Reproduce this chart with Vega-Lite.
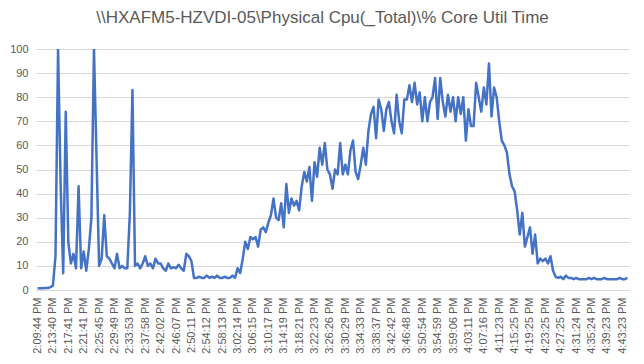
{
  "$schema": "https://vega.github.io/schema/vega-lite/v6.json",
  "autosize": "none",
  "width": 593,
  "height": 241,
  "padding": {"left": 36, "top": 49, "right": 15, "bottom": 74},
  "background": "white",
  "config": {
    "font": "Liberation Sans",
    "view": {"stroke": null}
  },
  "title": {
    "text": "\\\\HXAFM5-HZVDI-05\\Physical Cpu(_Total)\\% Core Util Time",
    "fontSize": 17,
    "fontWeight": "normal",
    "color": "#595959",
    "anchor": "middle",
    "frame": "group",
    "dx": -10,
    "offset": 16
  },
  "data": {"values": [
{"time":"2:09:44 PM","cpu":0.7},{"time":"2:10:24 PM","cpu":0.7},{"time":"2:11:04 PM","cpu":0.7},{"time":"2:11:44 PM","cpu":0.8},{"time":"2:12:24 PM","cpu":0.8},{"time":"2:13:04 PM","cpu":1.2},
{"time":"2:13:40 PM","cpu":1.8},{"time":"2:14:20 PM","cpu":14},{"time":"2:15:00 PM","cpu":100},{"time":"2:15:40 PM","cpu":44},{"time":"2:16:20 PM","cpu":7},{"time":"2:17:00 PM","cpu":74},
{"time":"2:17:41 PM","cpu":20},{"time":"2:18:21 PM","cpu":11},{"time":"2:19:01 PM","cpu":15},{"time":"2:19:41 PM","cpu":9},{"time":"2:20:21 PM","cpu":43},{"time":"2:21:01 PM","cpu":9},
{"time":"2:21:41 PM","cpu":16},{"time":"2:22:21 PM","cpu":8},{"time":"2:23:01 PM","cpu":17},{"time":"2:23:41 PM","cpu":30},{"time":"2:24:21 PM","cpu":100},{"time":"2:25:01 PM","cpu":55},
{"time":"2:25:45 PM","cpu":10},{"time":"2:26:25 PM","cpu":13},{"time":"2:27:05 PM","cpu":31},{"time":"2:27:45 PM","cpu":14},{"time":"2:28:25 PM","cpu":13},{"time":"2:29:05 PM","cpu":11},
{"time":"2:29:49 PM","cpu":9},{"time":"2:30:29 PM","cpu":15},{"time":"2:31:09 PM","cpu":9},{"time":"2:31:49 PM","cpu":10},{"time":"2:32:29 PM","cpu":9},{"time":"2:33:09 PM","cpu":9},
{"time":"2:33:53 PM","cpu":32},{"time":"2:34:33 PM","cpu":83},{"time":"2:35:13 PM","cpu":10},{"time":"2:35:53 PM","cpu":11},{"time":"2:36:33 PM","cpu":9},{"time":"2:37:13 PM","cpu":11},
{"time":"2:37:58 PM","cpu":14},{"time":"2:38:38 PM","cpu":10},{"time":"2:39:18 PM","cpu":11},{"time":"2:39:58 PM","cpu":9},{"time":"2:40:38 PM","cpu":13},{"time":"2:41:18 PM","cpu":11},
{"time":"2:42:02 PM","cpu":11},{"time":"2:42:42 PM","cpu":9},{"time":"2:43:22 PM","cpu":8},{"time":"2:44:02 PM","cpu":11},{"time":"2:44:42 PM","cpu":9},{"time":"2:45:22 PM","cpu":9.5},
{"time":"2:46:07 PM","cpu":9},{"time":"2:46:47 PM","cpu":10.5},{"time":"2:47:27 PM","cpu":9},{"time":"2:48:07 PM","cpu":8},{"time":"2:48:47 PM","cpu":15},{"time":"2:49:27 PM","cpu":14},
{"time":"2:50:11 PM","cpu":12},{"time":"2:50:51 PM","cpu":5},{"time":"2:51:31 PM","cpu":5},{"time":"2:52:11 PM","cpu":5.5},{"time":"2:52:51 PM","cpu":5},{"time":"2:53:31 PM","cpu":5},
{"time":"2:54:12 PM","cpu":6},{"time":"2:54:52 PM","cpu":5},{"time":"2:55:32 PM","cpu":5.5},{"time":"2:56:12 PM","cpu":5},{"time":"2:56:52 PM","cpu":6},{"time":"2:57:32 PM","cpu":5},
{"time":"2:58:13 PM","cpu":5},{"time":"2:58:53 PM","cpu":5.5},{"time":"2:59:33 PM","cpu":5},{"time":"3:00:13 PM","cpu":5},{"time":"3:00:53 PM","cpu":6},{"time":"3:01:33 PM","cpu":5},
{"time":"3:02:14 PM","cpu":9},{"time":"3:02:54 PM","cpu":7},{"time":"3:03:34 PM","cpu":13},{"time":"3:04:14 PM","cpu":20},{"time":"3:04:54 PM","cpu":17},{"time":"3:05:34 PM","cpu":22},
{"time":"3:06:15 PM","cpu":21},{"time":"3:06:55 PM","cpu":22},{"time":"3:07:35 PM","cpu":18},{"time":"3:08:15 PM","cpu":25},{"time":"3:08:55 PM","cpu":26},{"time":"3:09:35 PM","cpu":24},
{"time":"3:10:17 PM","cpu":28},{"time":"3:10:57 PM","cpu":31},{"time":"3:11:37 PM","cpu":38},{"time":"3:12:17 PM","cpu":30},{"time":"3:12:57 PM","cpu":29},{"time":"3:13:37 PM","cpu":36},
{"time":"3:14:19 PM","cpu":26},{"time":"3:14:59 PM","cpu":44},{"time":"3:15:39 PM","cpu":32},{"time":"3:16:19 PM","cpu":38},{"time":"3:16:59 PM","cpu":35},{"time":"3:17:39 PM","cpu":37},
{"time":"3:18:21 PM","cpu":33},{"time":"3:19:01 PM","cpu":43},{"time":"3:19:41 PM","cpu":49},{"time":"3:20:21 PM","cpu":45},{"time":"3:21:01 PM","cpu":51},{"time":"3:21:41 PM","cpu":37},
{"time":"3:22:23 PM","cpu":53},{"time":"3:23:03 PM","cpu":47},{"time":"3:23:43 PM","cpu":59},{"time":"3:24:23 PM","cpu":52},{"time":"3:25:03 PM","cpu":61},{"time":"3:25:43 PM","cpu":50},
{"time":"3:26:26 PM","cpu":48},{"time":"3:27:06 PM","cpu":42},{"time":"3:27:46 PM","cpu":50},{"time":"3:28:26 PM","cpu":48},{"time":"3:29:06 PM","cpu":61},{"time":"3:29:46 PM","cpu":48},
{"time":"3:30:29 PM","cpu":52},{"time":"3:31:09 PM","cpu":48},{"time":"3:31:49 PM","cpu":58},{"time":"3:32:29 PM","cpu":62},{"time":"3:33:09 PM","cpu":49},{"time":"3:33:49 PM","cpu":46},
{"time":"3:34:33 PM","cpu":52},{"time":"3:35:13 PM","cpu":59},{"time":"3:35:53 PM","cpu":52},{"time":"3:36:33 PM","cpu":66},{"time":"3:37:13 PM","cpu":73},{"time":"3:37:53 PM","cpu":76},
{"time":"3:38:37 PM","cpu":63},{"time":"3:39:17 PM","cpu":79},{"time":"3:39:57 PM","cpu":75},{"time":"3:40:37 PM","cpu":66},{"time":"3:41:17 PM","cpu":75},{"time":"3:41:57 PM","cpu":78},
{"time":"3:42:42 PM","cpu":70},{"time":"3:43:22 PM","cpu":65},{"time":"3:44:02 PM","cpu":81},{"time":"3:44:42 PM","cpu":70},{"time":"3:45:22 PM","cpu":65},{"time":"3:46:02 PM","cpu":79},
{"time":"3:46:48 PM","cpu":79},{"time":"3:47:28 PM","cpu":85},{"time":"3:48:08 PM","cpu":78},{"time":"3:48:48 PM","cpu":86},{"time":"3:49:28 PM","cpu":77},{"time":"3:50:08 PM","cpu":82},
{"time":"3:50:54 PM","cpu":70},{"time":"3:51:34 PM","cpu":80},{"time":"3:52:14 PM","cpu":70},{"time":"3:52:54 PM","cpu":78},{"time":"3:53:34 PM","cpu":80},{"time":"3:54:14 PM","cpu":88},
{"time":"3:54:59 PM","cpu":71},{"time":"3:55:39 PM","cpu":88},{"time":"3:56:19 PM","cpu":78},{"time":"3:56:59 PM","cpu":72},{"time":"3:57:39 PM","cpu":81},{"time":"3:58:19 PM","cpu":74},
{"time":"3:59:06 PM","cpu":80},{"time":"3:59:46 PM","cpu":70},{"time":"4:00:26 PM","cpu":80},{"time":"4:01:06 PM","cpu":73},{"time":"4:01:46 PM","cpu":80},{"time":"4:02:26 PM","cpu":62},
{"time":"4:03:11 PM","cpu":75},{"time":"4:03:51 PM","cpu":68},{"time":"4:04:31 PM","cpu":68},{"time":"4:05:11 PM","cpu":86},{"time":"4:05:51 PM","cpu":80},{"time":"4:06:31 PM","cpu":74},
{"time":"4:07:16 PM","cpu":84},{"time":"4:07:56 PM","cpu":77},{"time":"4:08:36 PM","cpu":94},{"time":"4:09:16 PM","cpu":72},{"time":"4:09:56 PM","cpu":84},{"time":"4:10:36 PM","cpu":80},
{"time":"4:11:23 PM","cpu":70},{"time":"4:12:03 PM","cpu":62},{"time":"4:12:43 PM","cpu":60},{"time":"4:13:23 PM","cpu":57},{"time":"4:14:03 PM","cpu":48},{"time":"4:14:43 PM","cpu":43},
{"time":"4:15:25 PM","cpu":41},{"time":"4:16:05 PM","cpu":33},{"time":"4:16:45 PM","cpu":23},{"time":"4:17:25 PM","cpu":32},{"time":"4:18:05 PM","cpu":18},{"time":"4:18:45 PM","cpu":22},
{"time":"4:19:25 PM","cpu":26},{"time":"4:20:05 PM","cpu":15},{"time":"4:20:45 PM","cpu":23},{"time":"4:21:25 PM","cpu":11},{"time":"4:22:05 PM","cpu":13},{"time":"4:22:45 PM","cpu":12},
{"time":"4:23:25 PM","cpu":13},{"time":"4:24:05 PM","cpu":11},{"time":"4:24:45 PM","cpu":14},{"time":"4:25:25 PM","cpu":8},{"time":"4:26:05 PM","cpu":5.5},{"time":"4:26:45 PM","cpu":5},
{"time":"4:27:25 PM","cpu":5.5},{"time":"4:28:05 PM","cpu":4.5},{"time":"4:28:45 PM","cpu":6},{"time":"4:29:25 PM","cpu":5},{"time":"4:30:05 PM","cpu":5},{"time":"4:30:45 PM","cpu":4.5},
{"time":"4:31:24 PM","cpu":5},{"time":"4:32:04 PM","cpu":4.5},{"time":"4:32:44 PM","cpu":4.5},{"time":"4:33:24 PM","cpu":4.5},{"time":"4:34:04 PM","cpu":4.5},{"time":"4:34:44 PM","cpu":5},
{"time":"4:35:24 PM","cpu":4.5},{"time":"4:36:04 PM","cpu":5},{"time":"4:36:44 PM","cpu":4.5},{"time":"4:37:24 PM","cpu":4.5},{"time":"4:38:04 PM","cpu":4.5},{"time":"4:38:44 PM","cpu":5},
{"time":"4:39:23 PM","cpu":4.5},{"time":"4:40:03 PM","cpu":4.5},{"time":"4:40:43 PM","cpu":4.5},{"time":"4:41:23 PM","cpu":4.5},{"time":"4:42:03 PM","cpu":4.5},{"time":"4:42:43 PM","cpu":5},
{"time":"4:43:23 PM","cpu":4.5},{"time":"4:44:03 PM","cpu":4.5},{"time":"4:44:43 PM","cpu":5}
  ]},
  "mark": {"type": "line", "color": "#4472c4", "strokeWidth": 2.5, "strokeJoin": "round", "clip": true},
  "encoding": {
    "x": {
      "field": "time",
      "type": "ordinal",
      "sort": null,
      "scale": {"type": "point", "padding": 0.6},
      "axis": {
        "title": null,
        "values": ["2:09:44 PM","2:13:40 PM","2:17:41 PM","2:21:41 PM","2:25:45 PM","2:29:49 PM","2:33:53 PM","2:37:58 PM","2:42:02 PM","2:46:07 PM","2:50:11 PM","2:54:12 PM","2:58:13 PM","3:02:14 PM","3:06:15 PM","3:10:17 PM","3:14:19 PM","3:18:21 PM","3:22:23 PM","3:26:26 PM","3:30:29 PM","3:34:33 PM","3:38:37 PM","3:42:42 PM","3:46:48 PM","3:50:54 PM","3:54:59 PM","3:59:06 PM","4:03:11 PM","4:07:16 PM","4:11:23 PM","4:15:25 PM","4:19:25 PM","4:23:25 PM","4:27:25 PM","4:31:24 PM","4:35:24 PM","4:39:23 PM","4:43:23 PM"],
        "labelAngle": -90,
        "labelAlign": "right",
        "labelBaseline": "middle",
        "labelFontSize": 11,
        "labelColor": "#595959",
        "labelPadding": 7,
        "ticks": false,
        "domain": true,
        "domainColor": "#d9d9d9",
        "domainWidth": 1,
        "grid": false
      }
    },
    "y": {
      "field": "cpu",
      "type": "quantitative",
      "scale": {"domain": [0, 100], "nice": false},
      "axis": {
        "title": null,
        "values": [0,10,20,30,40,50,60,70,80,90,100],
        "labelFontSize": 11,
        "labelColor": "#595959",
        "labelPadding": 8,
        "ticks": false,
        "domain": false,
        "grid": true,
        "gridColor": "#d9d9d9",
        "gridWidth": 1
      }
    }
  }
}
